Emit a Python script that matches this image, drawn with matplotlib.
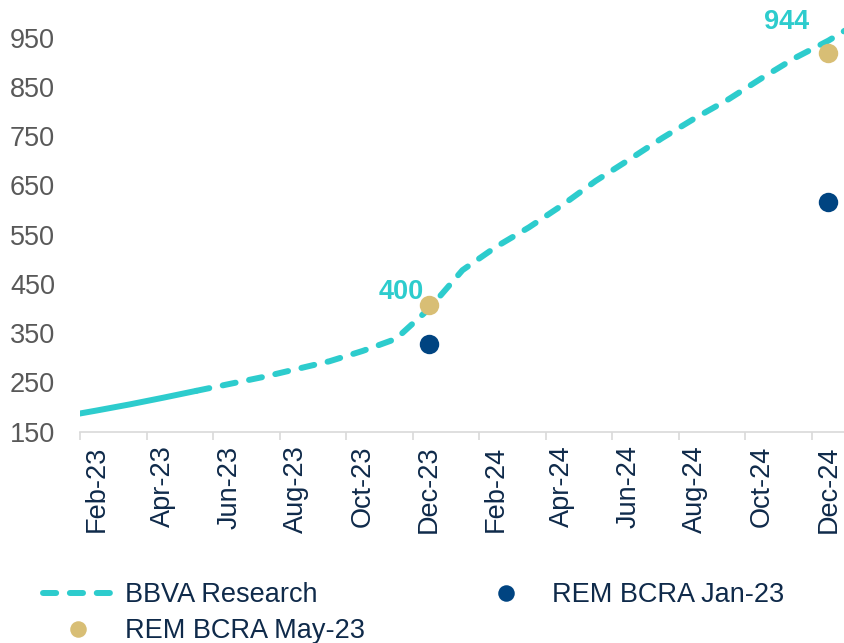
import matplotlib
matplotlib.use("Agg")
import matplotlib.pyplot as plt
import numpy as np

# ---- data ----
months = ["Jan-23", "Feb-23", "Mar-23", "Apr-23", "May-23", "Jun-23", "Jul-23", "Aug-23",
          "Sep-23", "Oct-23", "Nov-23", "Dec-23", "Jan-24", "Feb-24", "Mar-24", "Apr-24",
          "May-24", "Jun-24", "Jul-24", "Aug-24", "Sep-24", "Oct-24", "Nov-24", "Dec-24",
          "Jan-25"]
bbva = [181, 193, 205.5, 219, 233, 247, 261, 277, 293, 314, 338.5, 400, 478, 525, 565,
        610, 659, 702, 746, 787, 825, 868, 909, 944, 985]
actual_until = "May-23"          # solid part of the BBVA line ends here

rem_months = ["Dec-23", "Dec-24"]
rem_jan23 = [329, 617]
rem_may23 = [407, 918]

label_months = ["Dec-23", "Dec-24"]
tick_labels = ["Feb-23", "Apr-23", "Jun-23", "Aug-23", "Oct-23", "Dec-23",
               "Feb-24", "Apr-24", "Jun-24", "Aug-24", "Oct-24", "Dec-24"]
yticks = [150, 250, 350, 450, 550, 650, 750, 850, 950]

# ---- style ----
CYAN = "#2DCCCD"
NAVY = "#004481"
GOLD = "#D8BE75"
TXT = "#0F2A4A"
GRAY = "#595959"
AXC = "#D9D9D9"

plt.rcParams["font.family"] = ["Liberation Sans", "DejaVu Sans"]
FS = 19.5

W, H = 844, 643
fig = plt.figure(figsize=(W / 100, H / 100), dpi=100)
left_px, base_px, top_px = 80, 431.7, 10
ax = fig.add_axes([left_px / W, 1 - base_px / H, 1 - left_px / W, (base_px - top_px) / H])

pos = {m: i - 1 for i, m in enumerate(months)}   # Feb-23 -> 0
x = np.array([pos[m] for m in months])
bv = np.array(bbva)
k = months.index(actual_until)

lw = 4.3
ax.plot(x[:k + 1], bv[:k + 1], color=CYAN, lw=lw, solid_capstyle="round", zorder=2)
dashed, = ax.plot(x[k:], bv[k:], color=CYAN, lw=lw, dashes=(2.2, 2.3),
                  dash_capstyle="round", zorder=2, label="BBVA Research")

rx = [pos[m] for m in rem_months]
jan, = ax.plot(rx, rem_jan23, "o", color=NAVY, ms=14, mew=0, zorder=3, label="REM BCRA Jan-23")
may, = ax.plot(rx, rem_may23, "o", color=GOLD, ms=14, mew=0, zorder=3, label="REM BCRA May-23")

offsets = {"Dec-23": (-20, 12), "Dec-24": (-30, 13.5)}
for m in label_months:
    v = bbva[months.index(m)]
    ax.annotate(f"{v:.0f}", (pos[m], v), xytext=offsets[m], textcoords="offset points",
                ha="center", va="center", fontsize=FS, fontweight="bold", color=CYAN, zorder=4)

px_per_unit = 0.4925
ax.set_ylim(150, 150 + (base_px - top_px) / px_per_unit)
cat_w = 33.26
ax.set_xlim(-0.5, -0.5 + (W - left_px) / cat_w)

for s in ["top", "right", "left"]:
    ax.spines[s].set_visible(False)
ax.spines["bottom"].set_color(AXC)
ax.spines["bottom"].set_linewidth(1.2)

ax.set_yticks(yticks)
ax.tick_params(axis="y", length=0, pad=18, labelsize=FS, labelcolor=GRAY)

ax.set_xticks(np.arange(-0.5, 22.0, 2.0))
ax.set_xticklabels([])
ax.tick_params(axis="x", which="major", length=6, width=1.2, color=AXC)
ax.set_xticks([pos[m] for m in tick_labels], minor=True)
ax.set_xticklabels(tick_labels, minor=True, rotation=90, fontsize=FS, color=TXT)
ax.tick_params(axis="x", which="minor", length=0, pad=10)

fig.legend(handles=[dashed, may, jan], loc="upper left",
           bbox_to_anchor=(43 / W, 1 - 582 / H), ncol=2, frameon=False,
           fontsize=FS, labelcolor=TXT, handlelength=2.6, handletextpad=0.42,
           columnspacing=3.9, labelspacing=0.38, borderpad=0, borderaxespad=0,
           markerscale=0.85)

fig.savefig("out.png", dpi=100)
